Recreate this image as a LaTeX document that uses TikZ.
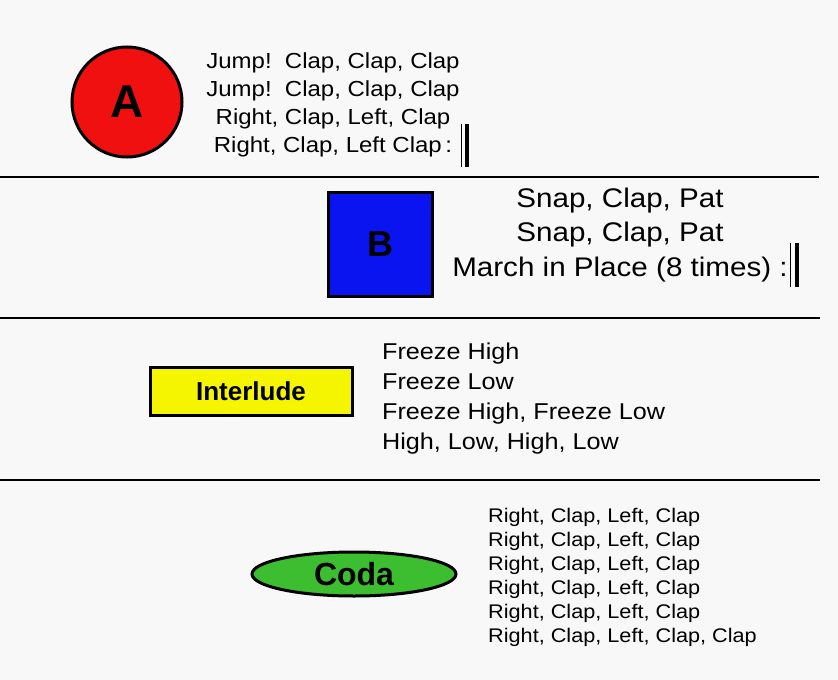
\documentclass[tikz,border=0pt]{standalone}
\usepackage{fontspec}
\setmainfont{Liberation Sans}
\newfontfamily\lyricfont[FakeStretch=1.1]{Liberation Sans}
\usetikzlibrary{shapes.geometric}
\definecolor{bg}{RGB}{248,248,248}
\definecolor{cred}{RGB}{240,16,16}
\definecolor{cblue}{RGB}{10,20,240}
\definecolor{cyellow}{RGB}{245,245,0}
\definecolor{cgreen}{RGB}{60,190,48}
\tikzset{
  sepline/.style={line width=2.5pt, black},
  shapebox/.style={draw=black, line width=3pt, inner sep=0pt},
  lyric/.style={inner sep=0pt, text=black},
  thinbar/.style={line width=0.8pt},
  thickbar/.style={line width=4.5pt},
}
\begin{document}
\begin{tikzpicture}[x=1pt,y=-1pt]
\fill[bg] (0,0) rectangle (838,680);
\useasboundingbox (0,0) rectangle (838,680);
% separators
\draw[sepline] (0,177) -- (819,177);
\draw[sepline] (0,318) -- (820,318);
\draw[sepline] (0,480) -- (820,480);
% Section A
\node[shapebox, circle, fill=cred, minimum size=110pt, font=\fontsize{46}{46}\selectfont\bfseries] (A) at (127,102) {A};
\node[lyric, align=center, font=\lyricfont\fontsize{21.8}{28}\selectfont] (At) at (333,105)
  {Jump!\ \ Clap, Clap, Clap\\Jump!\ \ Clap, Clap, Clap\\Right, Clap, Left, Clap\\Right, Clap, Left Clap\,:};
\draw[thinbar] (461,124) -- (461,167);
\draw[thickbar] (467,124) -- (467,167);
% Section B
\node[shapebox, rectangle, fill=cblue, minimum width=104pt, minimum height=104pt, font=\fontsize{36}{36}\selectfont\bfseries] (B) at (380,244) {B};
\node[lyric, align=center, font=\lyricfont\fontsize{26.9}{34.5}\selectfont] (Bt) at (620,235)
  {Snap, Clap, Pat\\Snap, Clap, Pat\\March in Place (8 times) :};
\draw[thinbar] (790,243) -- (790,287);
\draw[thickbar] (797,243) -- (797,287);
% Interlude
\node[shapebox, rectangle, fill=cyellow, minimum width=202pt, minimum height=48pt, font=\fontsize{26}{26}\selectfont\bfseries] (I) at (251,391) {Interlude};
\node[lyric, align=left, anchor=west, font=\lyricfont\fontsize{22.9}{30}\selectfont] (It) at (382,399)
  {Freeze High\\Freeze Low\\Freeze High, Freeze Low\\High, Low, High, Low};
% Coda
\node[shapebox, ellipse, fill=cgreen, minimum width=204pt, minimum height=44pt, font=\fontsize{32}{32}\selectfont\bfseries] (C) at (354,574) {Coda};
\node[lyric, align=left, anchor=west, font=\lyricfont\fontsize{19.7}{24}\selectfont] (Ct) at (488,577)
  {Right, Clap, Left, Clap\\Right, Clap, Left, Clap\\Right, Clap, Left, Clap\\Right, Clap, Left, Clap\\Right, Clap, Left, Clap\\Right, Clap, Left, Clap, Clap};
\end{tikzpicture}
\end{document}
